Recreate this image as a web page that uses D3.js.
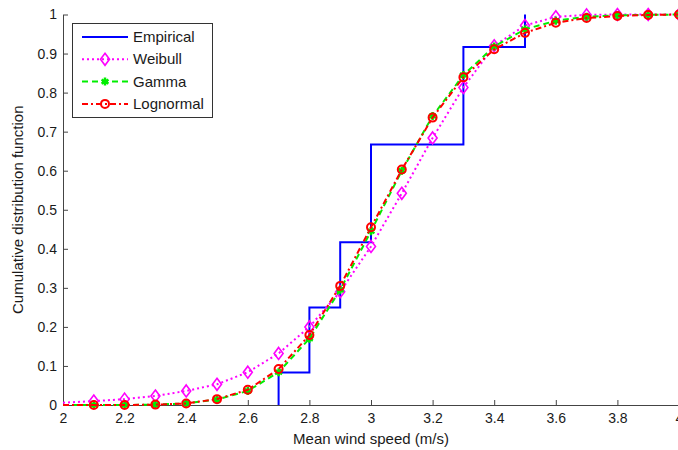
<!DOCTYPE html>
<meta charset="utf-8">
<style>
    body { margin: 0; background: #fff; }
    svg { display: block; font-family: "Liberation Sans", Arial, sans-serif; }
    .axis text { font-size: 14px; fill: #1a1a1a; }
    .axis path, .axis line { stroke: #444; stroke-width: 1; }
    .lbl { font-size: 15px; fill: #1a1a1a; }
</style>
<svg id="chart" width="678" height="450"></svg>
<script src="https://cdn.jsdelivr.net/npm/d3@7"></script>
<script>
// wind speed grid for the fitted curves
var speeds = [2.0, 2.1, 2.2, 2.3, 2.4, 2.5, 2.6, 2.7, 2.8, 2.9, 3.0,
              3.1, 3.2, 3.3, 3.4, 3.5, 3.6, 3.7, 3.8, 3.9, 4.0];
var weibull = [0.006, 0.01, 0.015, 0.023, 0.036, 0.053, 0.084, 0.132, 0.2, 0.29, 0.406,
               0.542, 0.684, 0.813, 0.92, 0.972, 0.994, 0.999, 1.0, 1.0, 1.0];
var gamma = [0.0, 0.0, 0.0, 0.001, 0.004, 0.014, 0.036, 0.084, 0.17, 0.295, 0.445,
             0.6, 0.74, 0.845, 0.918, 0.962, 0.984, 0.994, 0.998, 0.999, 1.0];
var lognormal = [0.0, 0.0, 0.0, 0.001, 0.004, 0.015, 0.039, 0.092, 0.179, 0.305, 0.455,
                 0.603, 0.736, 0.839, 0.911, 0.953, 0.979, 0.991, 0.996, 0.999, 1.0];
// empirical step function
var empSpeeds = [2.7, 2.7, 2.8, 2.9, 3.0, 3.3, 3.5];
var empCdf = [0, 0.083, 0.25, 0.417, 0.667, 0.917, 1.0];

var xTicks = [2, 2.2, 2.4, 2.6, 2.8, 3, 3.2, 3.4, 3.6, 3.8, 4];
var yTicks = [0, 0.1, 0.2, 0.3, 0.4, 0.5, 0.6, 0.7, 0.8, 0.9, 1];

var svg = d3.select("#chart");
var x = d3.scaleLinear().domain([2, 4]).range([63, 679]);
var y = d3.scaleLinear().domain([0, 1]).range([405, 14.5]);
var fmt = d3.format(".1~f");

svg.append("g")
    .attr("class", "axis")
    .attr("transform", "translate(0,405)")
    .call(d3.axisBottom(x).tickValues(xTicks).tickFormat(fmt).tickSizeInner(-5).tickSizeOuter(0).tickPadding(8));

svg.append("g")
    .attr("class", "axis")
    .attr("transform", "translate(63,0)")
    .call(d3.axisLeft(y).tickValues(yTicks).tickFormat(fmt).tickSizeInner(-5).tickSizeOuter(0).tickPadding(6));

svg.append("text").attr("class", "lbl")
    .attr("x", x(3)).attr("y", 444)
    .attr("text-anchor", "middle")
    .text("Mean wind speed (m/s)");

svg.append("text").attr("class", "lbl")
    .attr("transform", "translate(23," + y(0.5) + ") rotate(-90)")
    .attr("text-anchor", "middle")
    .text("Cumulative distribution function");

var plot = svg.append("g");

var series = [
    {name: "Weibull", vals: weibull, color: "#ff00ff", dash: "2,3", mark: "diamond"},
    {name: "Gamma", vals: gamma, color: "#00ee00", dash: "6,4", mark: "star"},
    {name: "Lognormal", vals: lognormal, color: "#ff0000", dash: "6,3,2,3", mark: "circle"}
];

var line = d3.line()
    .x(function (d) { return x(d[0]); })
    .y(function (d) { return y(d[1]); });

// empirical stairs
plot.append("path")
    .datum(d3.zip(empSpeeds, empCdf))
    .attr("fill", "none")
    .attr("stroke", "#0000ff")
    .attr("stroke-width", 2)
    .attr("d", line.curve(d3.curveStepAfter));

line.curve(d3.curveLinear);

function drawMarker(g, kind, color) {
    if (kind === "diamond") {
        g.append("path").attr("d", "M0,-6L4.5,0L0,6L-4.5,0Z")
            .attr("fill", "none").attr("stroke", color).attr("stroke-width", 1.6);
    } else if (kind === "star") {
        g.append("path").attr("d", d3.symbol(d3.symbolAsterisk, 45)())
            .attr("fill", "none").attr("stroke", color).attr("stroke-width", 2.5);
    } else {
        g.append("circle").attr("r", 4)
            .attr("fill", "none").attr("stroke", color).attr("stroke-width", 2);
    }
}

series.forEach(function (s) {
    var pts = d3.zip(speeds, s.vals);
    plot.append("path")
        .datum(pts)
        .attr("fill", "none")
        .attr("stroke", s.color)
        .attr("stroke-width", 2)
        .attr("stroke-dasharray", s.dash)
        .attr("d", line);
    pts.slice(1).forEach(function (p) {
        var g = plot.append("g").attr("transform", "translate(" + x(p[0]) + "," + y(p[1]) + ")");
        drawMarker(g, s.mark, s.color);
    });
});

// legend
var legend = svg.append("g");
legend.append("rect")
    .attr("x", 72.5).attr("y", 23.5).attr("width", 140).attr("height", 94)
    .attr("fill", "#fff").attr("stroke", "#333").attr("stroke-width", 1);

var legendItems = [{name: "Empirical", color: "#0000ff", dash: null, mark: null}].concat(series);
legendItems.forEach(function (s, i) {
    var ly = 37 + i * 22.3;
    legend.append("line")
        .attr("x1", 82).attr("x2", 128).attr("y1", ly).attr("y2", ly)
        .attr("stroke", s.color).attr("stroke-width", 2)
        .attr("stroke-dasharray", s.dash);
    if (s.mark) {
        drawMarker(legend.append("g").attr("transform", "translate(105," + ly + ")"), s.mark, s.color);
    }
    legend.append("text").attr("class", "lbl")
        .attr("x", 133).attr("y", ly + 5)
        .text(s.name);
});
</script>
